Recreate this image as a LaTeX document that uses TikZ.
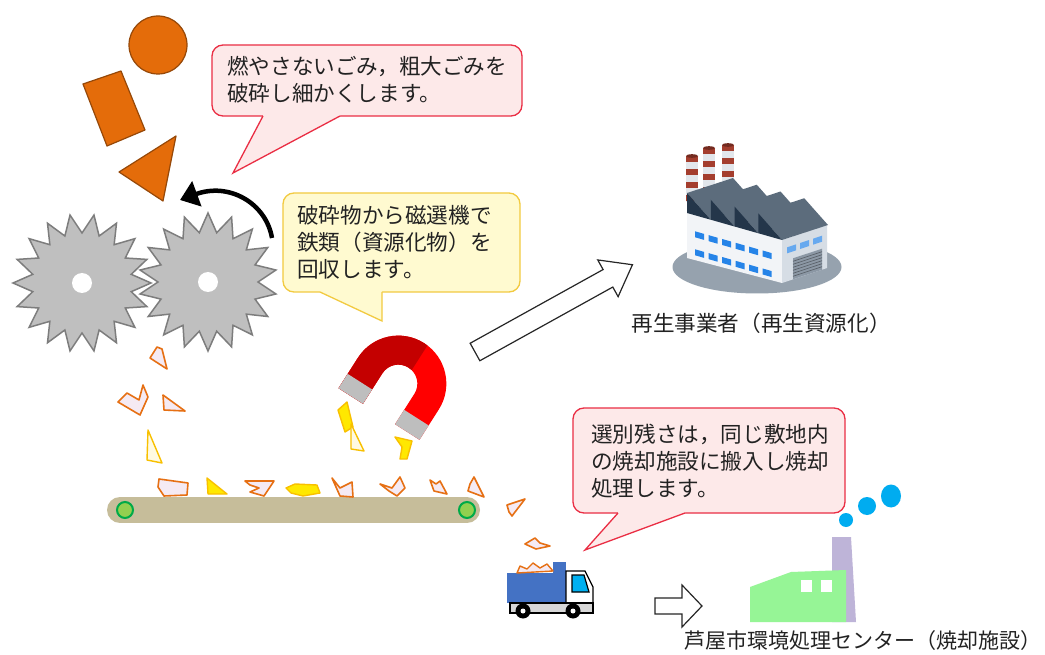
\documentclass[tikz,border=0pt]{standalone}
\usepackage{fontspec}
\newfontfamily\jpfont{Noto Sans CJK JP}
\usetikzlibrary{arrows.meta}

\definecolor{ink}{RGB}{34,34,34}
\definecolor{shapeorange}{RGB}{228,108,10}
\definecolor{shapeedge}{RGB}{150,72,8}
\definecolor{bubblepink}{RGB}{253,233,233}
\definecolor{bubblered}{RGB}{234,46,68}
\definecolor{bubbleyellow}{RGB}{255,250,208}
\definecolor{bubblegold}{RGB}{242,202,64}
\definecolor{gearfill}{RGB}{191,191,191}
\definecolor{gearedge}{RGB}{125,125,125}
\definecolor{shardedge}{RGB}{230,112,20}
\definecolor{shardfill}{RGB}{245,234,243}
\definecolor{irondraw}{RGB}{248,192,0}
\definecolor{ironfill}{RGB}{255,232,0}
\definecolor{ironpale}{RGB}{255,250,226}
\definecolor{belttan}{RGB}{198,189,154}
\definecolor{rollerfill}{RGB}{146,208,80}
\definecolor{rolleredge}{RGB}{0,170,72}
\definecolor{magnetdark}{RGB}{196,0,0}
\definecolor{magnetred}{RGB}{255,0,0}
\definecolor{polegrey}{RGB}{190,190,190}
\definecolor{factoryshadow}{RGB}{150,162,174}
\definecolor{wallfront}{RGB}{242,244,247}
\definecolor{wallside}{RGB}{214,221,229}
\definecolor{roofslate}{RGB}{92,108,124}
\definecolor{roofdark}{RGB}{36,54,74}
\definecolor{winblue}{RGB}{38,132,232}
\definecolor{doorgrey}{RGB}{140,152,165}
\definecolor{stackwhite}{RGB}{226,230,235}
\definecolor{stackred}{RGB}{164,62,46}
\definecolor{truckblue}{RGB}{68,114,196}
\definecolor{cabwindow}{RGB}{0,176,240}
\definecolor{chassisgrey}{RGB}{215,215,215}
\definecolor{plantgreen}{RGB}{150,245,150}
\definecolor{stacklav}{RGB}{190,180,216}
\definecolor{smokeblue}{RGB}{0,172,240}

\tikzset{
  jtext/.style={font=\jpfont\fontsize{21.6pt}{27pt}\selectfont, text=ink, align=left, inner sep=0pt},
  pinkbubble/.style={fill=bubblepink, draw=bubblered, line width=1.3pt},
  yellowbubble/.style={fill=bubbleyellow, draw=bubblegold, line width=1.3pt},
  bulky/.style={fill=shapeorange, draw=shapeedge, line width=1.2pt, line join=round},
  gear/.style={fill=gearfill, draw=gearedge, line width=1.5pt, line join=miter},
  shard/.style={fill=shardfill, draw=shardedge, line width=1.6pt, line join=round},
  ironbit/.style={fill=ironfill, draw=irondraw, line width=1.4pt, line join=round},
  ironpalebit/.style={fill=ironpale, draw=irondraw, line width=1.4pt, line join=round},
  hollowarrow/.style={fill=white, draw=black!85, line width=1.2pt, line join=miter},
  turnarrow/.style={line width=4.5pt, -{Triangle[length=18pt,width=26pt]}},
  truckline/.style={draw=black, line width=1.2pt},
}

% speech bubble: style, x1, y1, x2, y2, tail base left x, tail base right x, tip x, tip y
\newcommand{\talkbubble}[9]{%
  \draw[#1, rounded corners=11pt] (#2,#3) rectangle (#4,#5);
  \fill[#1, draw=none] (#6,#5-3) -- (#6,#5) -- (#8,#9) -- (#7,#5) -- (#7,#5-3) -- cycle;
  \draw[#1, fill=none, line join=miter] (#6,#5) -- (#8,#9) -- (#7,#5);
}

\begin{document}
\begin{tikzpicture}[x=1pt, y=-1pt]
\fill[white] (0,0) rectangle (1045,655);
\useasboundingbox (0,0) rectangle (1045,655);

% ---- bulky waste going in ----
\draw[bulky] (158,45) circle[radius=29];
\draw[bulky] (83,84) -- (121,71) -- (145,130) -- (107,146) -- cycle;
\draw[bulky] (119,172) -- (176,136) -- (163,201) -- cycle;

% ---- crusher rollers ----
\begin{scope}[shift={(82,283)}]
  \draw[gear] (0:69) \foreach \a in {0,20,...,340} { -- ({\a+10}:50) -- ({\a+20}:69) } -- cycle;
  \fill[white] (0,0) circle[radius=10];
\end{scope}
\begin{scope}[shift={(208,282)}]
  \draw[gear] (10:69) \foreach \a in {0,20,...,340} { -- ({\a+20}:50) -- ({\a+30}:69) } -- cycle;
  \fill[white] (0,0) circle[radius=10];
\end{scope}

% rotation arrow
\coordinate (turnstart) at (272,238);
\coordinate (turnend) at (180,200);
\draw[turnarrow] (turnstart) .. controls (266,203) and (229,182) .. (turnend);

% ---- speech bubbles ----
\talkbubble{pinkbubble}{212}{45}{522}{116}{263}{340}{233}{173}
\node[jtext, anchor=west] (crushnote) at (227,80) {燃やさないごみ，粗大ごみを\\破砕し細かくします。};

\talkbubble{yellowbubble}{283}{193}{520}{292}{320}{382}{382}{321}
\node[jtext, anchor=west] (magnetnote) at (297,242) {破砕物から磁選機で\\鉄類（資源化物）を\\回収します。};

\talkbubble{pinkbubble}{573}{408}{845}{513}{618}{685}{585}{550}
\node[jtext, anchor=west] (residuenote) at (591,461) {選別残さは，同じ敷地内\\の焼却施設に搬入し焼却\\処理します。};

% ---- conveyor belt ----
\coordinate (beltL) at (120,510);
\coordinate (beltR) at (467,510);
\draw[belttan, line width=26pt, line cap=round] (beltL) -- (beltR);
\draw[fill=rollerfill, draw=rolleredge, line width=2pt] (125,510) circle[radius=8];
\draw[fill=rollerfill, draw=rolleredge, line width=2pt] (467,510) circle[radius=8];

% ---- crushed pieces ----
\draw[shard] (150,358) -- (157,347) -- (162,349) -- (167,369) -- cycle;
\draw[shard] (118,402) -- (140,415) -- (148,397) -- (143,385) -- (139,400) -- (127,393) -- cycle;
\draw[shard] (163,395) -- (185,411) -- (164,410) -- cycle;
\draw[ironpalebit] (148,430) -- (162,463) -- (147,460) -- cycle;
\draw[shard] (159,479) -- (188,483) -- (187,495) -- (164,496) -- (158,487) -- cycle;
\draw[ironbit] (207,478) -- (227,494) -- (208,494) -- cycle;
\draw[shard] (245,481) -- (274,481) -- (264,496) -- (250,492) -- (259,488) -- (250,485) -- cycle;
\draw[ironbit] (286,488) -- (295,484) -- (317,485) -- (320,493) -- (303,496) -- (291,493) -- cycle;
\draw[shard] (332,478) -- (340,488) -- (352,482) -- (353,497) -- (340,496) -- cycle;
\draw[shard] (380,484) -- (392,488) -- (400,477) -- (405,488) -- (397,496) -- (389,491) -- cycle;
\draw[shard] (430,480) -- (436,484) -- (440,481) -- (447,494) -- (434,491) -- cycle;
\draw[shard] (474,477) -- (484,497) -- (468,491) -- (470,484) -- cycle;
\draw[shard] (507,505) -- (525,499) -- (512,516) -- (509,512) -- cycle;
\draw[shard] (525,544) -- (535,538) -- (540,543) -- (550,546) -- (536,549) -- cycle;

% ---- magnet ----
\begin{scope}[shift={(379,414)}, rotate=-32.5]
  \fill[magnetred] (-48,0) -- (-48,-36) arc[start angle=180, end angle=360, radius=48]
    -- (48,0) -- (19,0) -- (19,-36) arc[start angle=360, end angle=180, radius=19]
    -- (-19,0) -- cycle;
  \begin{scope}
    \clip (-60,10) rectangle (4,-95);
    \fill[magnetdark] (-48,0) -- (-48,-36) arc[start angle=180, end angle=360, radius=48]
      -- (48,0) -- (19,0) -- (19,-36) arc[start angle=360, end angle=180, radius=19]
      -- (-19,0) -- cycle;
  \end{scope}
  \fill[polegrey] (-48,0) rectangle (-19,-17);
  \fill[polegrey] (19,0) rectangle (48,-17);
\end{scope}
\draw[ironbit] (338,410) -- (347,402) -- (353,427) -- (345,432) -- cycle;
\draw[ironpalebit] (351,424) -- (364,451) -- (351,449) -- cycle;
\draw[ironbit] (395,437) -- (412,441) -- (407,459) -- (400,459) -- (402,447) -- cycle;

% ---- arrow to the recycler ----
\coordinate (recyclearrow) at (475,352);
\begin{scope}[shift={(recyclearrow)}, rotate=29]
  \draw[hollowarrow] (0,-10) -- (152,-10) -- (152,-21) -- (180,0) -- (152,21) -- (152,10) -- (0,10) -- cycle;
\end{scope}

% ---- recycling factory ----
\fill[factoryshadow] (757,267) ellipse[x radius=84.5, y radius=26.5];
\foreach \cx/\cy in {686/156, 703/148, 722/145} {
  \fill[stackwhite] (\cx,\cy) rectangle (\cx+12,202);
  \foreach \k in {0,13,26,39} { \fill[stackred] (\cx,\cy+\k) rectangle (\cx+12,\cy+\k+6); }
  \fill[stackred!70!black] (\cx+6,\cy) ellipse[x radius=6, y radius=1.8];
}
\fill[wallfront] (687,213) -- (782,240) -- (782,283) -- (687,258) -- cycle;
\fill[wallside] (782,240) -- (827,225) -- (827,268) -- (782,283) -- cycle;
\foreach \i in {0,...,3} {
  \pgfmathsetmacro\px{687+23.75*\i}
  \pgfmathsetmacro\py{213+6.75*\i}
  \fill[roofslate] (\px,\py-20) -- ++(46,-15) -- (\px+69.75,\py-8.25) -- (\px+23.75,\py+6.75) -- cycle;
  \fill[roofdark] (\px,\py) -- (\px,\py-20) -- (\px+23.75,\py+6.75) -- cycle;
}
\foreach \k in {0,...,5} {
  \foreach \r in {0,18} {
    \pgfmathsetmacro\wx{695+13.5*\k}
    \pgfmathsetmacro\wy{229+0.284*(\wx-687)+\r}
    \fill[winblue] (\wx,\wy) -- (\wx+9,\wy+2.6) -- (\wx+9,\wy+8.6) -- (\wx,\wy+6) -- cycle;
  }
}
\foreach \wx in {787,800,813} {
  \pgfmathsetmacro\wy{249-0.333*(\wx-782)}
  \fill[winblue!70!white] (\wx,\wy) -- (\wx+9,\wy-3) -- (\wx+9,\wy+3) -- (\wx,\wy+6) -- cycle;
}
\fill[doorgrey] (793,258.3) -- (822,248.7) -- (822,269.7) -- (793,279.3) -- cycle;
\foreach \s in {3,6,...,18} {
  \draw[doorgrey!60!black, line width=0.6pt] (793,258.3+\s) -- (822,248.7+\s);
}
\node[jtext] (recyclerlabel) at (761,323) {再生事業者（再生資源化）};

% ---- truck ----
\fill[truckblue] (507,573) rectangle (566,603);
\fill[truckblue] (553,562) rectangle (566,573);
\draw[shard, line width=1.4pt] (517,573) -- (520,566) -- (527,569) -- (533,563) -- (540,568) -- (547,564) -- (553,571) -- cycle;
\draw[truckline, fill=white] (566,571) -- (585,571) -- (593,587) -- (593,603) -- (566,603) -- cycle;
\draw[truckline, fill=cabwindow] (572,575) -- (584,575) -- (589,592) -- (572,592) -- cycle;
\draw[truckline, fill=chassisgrey] (510,603) rectangle (593,613);
\foreach \wx in {523,573} {
  \fill[black] (\wx,611) circle[radius=7.5];
  \fill[white] (\wx,611) circle[radius=2.5];
}

% ---- arrow to the incineration plant ----
\coordinate (plantarrow) at (655,606);
\draw[hollowarrow] (plantarrow) ++(0,-8) -- (682,598) -- (682,585) -- (702,606) -- (682,627) -- (682,614) -- (655,614) -- cycle;

% ---- incineration plant ----
\fill[stacklav] (832,537) -- (851,537) -- (856,622) -- (832,622) -- cycle;
\fill[plantgreen] (750,587) -- (791,572) -- (846,570) -- (846,622) -- (750,622) -- cycle;
\fill[white] (801,580) rectangle (812,592);
\fill[white] (821,580) rectangle (832,592);
\fill[smokeblue] (846,520) circle[radius=7];
\fill[smokeblue] (867,506) circle[radius=9];
\fill[smokeblue] (891,496) ellipse[x radius=10, y radius=11.5];
\node[jtext, anchor=west, font=\jpfont\fontsize{21pt}{27pt}\selectfont] (plantlabel) at (684,641) {芦屋市環境処理センター（焼却施設）};

\end{tikzpicture}
\end{document}
